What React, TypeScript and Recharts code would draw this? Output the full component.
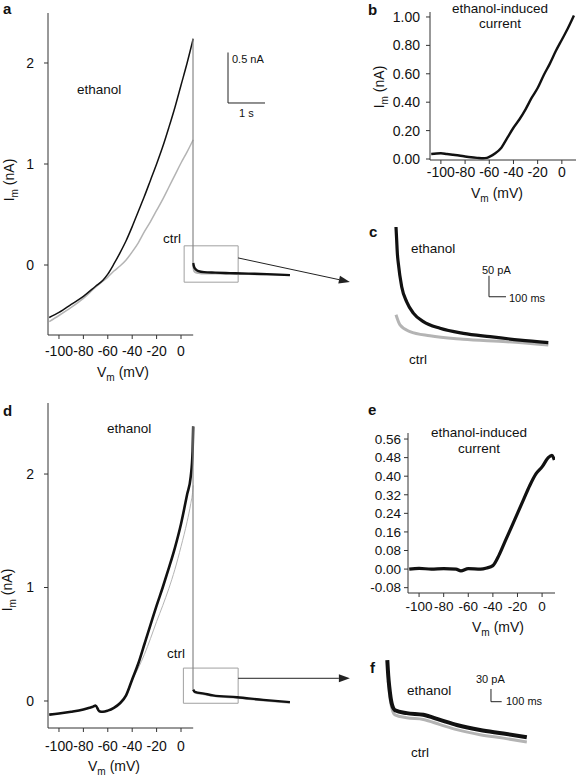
import React from "react";
import { ComposedChart, Line, XAxis, YAxis, ReferenceLine, ReferenceArea } from "recharts";

// ---- panel a: ramp I-V (mV) followed by holding trace (s) ----
const mvTicks = [-100, -80, -60, -40, -20, 0];
const aMv = [-108, -100, -90, -80, -70, -64, -60, -55, -50, -45, -40, -35, -30, -25, -20, -15, -10, -5, 0, 5, 10];
const aEthanol = [-0.52, -0.47, -0.39, -0.31, -0.21, -0.15, -0.09, 0.01, 0.12, 0.24, 0.38, 0.53, 0.68, 0.84, 1.0, 1.17, 1.36, 1.56, 1.78, 2.0, 2.24];
const aCtrl = [-0.56, -0.5, -0.42, -0.33, -0.22, -0.16, -0.12, -0.06, -0.01, 0.05, 0.13, 0.22, 0.33, 0.43, 0.54, 0.65, 0.77, 0.89, 1.01, 1.12, 1.24];
const aStepT = [0, 0];
const aStep = [2.24, 0.02];
const aHoldT = [0.005, 0.03, 0.08, 0.15, 0.3, 0.6, 1.0, 1.5, 2.0, 2.62];
const aHoldEthanol = [0.02, -0.02, -0.045, -0.06, -0.07, -0.075, -0.08, -0.085, -0.09, -0.1];
const aHoldCtrl = [0.0, -0.06, -0.075, -0.08, -0.085, -0.085, -0.09, -0.09, -0.095, -0.1];

// ---- panel b: ethanol-induced current ----
const bMv = [-108, -100, -95, -90, -85, -80, -75, -70, -65, -62, -60, -55, -50, -45, -40, -35, -30, -25, -20, -15, -10, -5, 0, 5, 10];
const bCurrent = [0.035, 0.04, 0.035, 0.03, 0.025, 0.018, 0.012, 0.008, 0.005, 0.008, 0.015, 0.04, 0.08, 0.15, 0.22, 0.28, 0.35, 0.43, 0.5, 0.59, 0.67, 0.76, 0.84, 0.92, 1.01];
const bTicks = [0, 0.2, 0.4, 0.6, 0.8, 1.0];

// ---- panel c: zoom of holding trace (ms, pA) ----
const cEthT = [0, 4, 8, 13.5, 33.5, 63, 102, 161, 259, 396, 553, 729, 896];
const cEthanol = [181, 150, 118, 95, 39, 3, -24, -44, -60, -72, -80, -88, -94];
const cCtrlT = [0, 23.5, 82, 200, 394, 651, 896];
const cCtrl = [-28, -52, -68, -78, -86, -92, -100];

// ---- panel d ----
const dMv = [-108, -100, -90, -80, -75, -72, -70, -67, -64, -60, -55, -50, -45, -40, -35, -30, -25, -20, -15, -10, -5, 0, 5, 8, 9.5, 10];
const dEthanol = [-0.12, -0.11, -0.095, -0.075, -0.06, -0.05, -0.04, -0.09, -0.095, -0.085, -0.06, -0.02, 0.05, 0.19, 0.33, 0.5, 0.67, 0.84, 1.0, 1.17, 1.35, 1.56, 1.82, 1.98, 2.2, 2.42];
const dCtrl = [-0.12, -0.11, -0.095, -0.075, -0.06, -0.05, -0.04, -0.09, -0.095, -0.085, -0.06, -0.02, 0.05, 0.18, 0.29, 0.41, 0.55, 0.7, 0.84, 0.99, 1.16, 1.36, 1.58, 1.74, 1.84, 1.9];
const dStepT = [0, 0];
const dStep = [2.42, 0.1];
const dHoldT = [0.005, 0.05, 0.3, 0.54, 1.19, 1.9, 2.62];
const dHoldEthanol = [0.1, 0.08, 0.065, 0.05, 0.033, 0.01, -0.01];
const dHoldCtrl = [0.1, 0.075, 0.06, 0.045, 0.028, 0.005, -0.015];

// ---- panel e ----
const eMv = [-108, -100, -90, -80, -70, -66, -60, -50, -45, -40, -35, -30, -25, -20, -15, -10, -5, 0, 5, 8, 10];
const eCurrent = [0.0, 0.003, 0.0, 0.002, 0.0, -0.008, 0.002, 0.0, 0.005, 0.015, 0.06, 0.12, 0.18, 0.24, 0.3, 0.36, 0.41, 0.44, 0.48, 0.49, 0.47];
const eTicks = [-0.08, 0, 0.08, 0.16, 0.24, 0.32, 0.4, 0.48, 0.56];

// ---- panel f ----
const fEthT = [0, 9, 18.7, 41, 72, 181, 337, 493, 649, 867, 1085, 1304];
const fEthanol = [167, 130, 104, 65, 49, 42, 38, 26, 14, 2, -6, -15];
const fCtrlT = [9, 18.7, 41, 72, 181, 337, 493, 649, 867, 1085, 1304];
const fCtrl = [118, 92, 55, 38, 31, 27, 15, 3, -9, -17, -26];

// scale bars and zoom boxes (data units)
const aScale = { t: 0.946, i: 1.604, dt: 1, di: 0.5 };
const cScale = { t: 547, i: 15, dt: 100, di: 50 };
const fScale = { t: 969, i: 69, dt: 100, di: 30 };
const aBox = { t1: -0.24, t2: 1.22, i1: -0.17, i2: 0.19 };
const dBox = { t1: -0.26, t2: 1.22, i1: -0.02, i2: 0.29 };
const aArrow = [{ x: 1.22, y: 0.07 }, { x: 4.24, y: -0.168 }];
const dArrow = [{ x: 1.22, y: 0.2 }, { x: 4.24, y: 0.2 }];

const FONT = '"Liberation Sans", Arial, Helvetica, sans-serif';
const BLACK = "#111";
const GREY = "#b4b4b4";
const AXIS = "#333";

const zip = (key: string, xs: number[], ys: number[]) => xs.map((x, k) => ({ [key]: x, i: ys[k] }));

const Arrow = (p: any) => {
  const { x1, y1, x2, y2 } = p;
  const a = Math.atan2(y2 - y1, x2 - x1);
  const L = 11, W = 4;
  const bx = x2 - L * Math.cos(a), by = y2 - L * Math.sin(a);
  const pts = `${x2},${y2} ${bx - W * Math.sin(a)},${by + W * Math.cos(a)} ${bx + W * Math.sin(a)},${by - W * Math.cos(a)}`;
  return (
    <g>
      <line x1={x1} y1={y1} x2={bx} y2={by} stroke="#222" strokeWidth={1} />
      <polygon points={pts} fill="#222" />
    </g>
  );
};

const line = (props: any) => (
  <Line dot={false} activeDot={false} isAnimationActive={false} strokeLinejoin="round" {...props} />
);

function Title({ x, y, base, sub, rest, rotate, size = 14 }: any) {
  return (
    <text x={x} y={y} fontSize={size} textAnchor="middle" fill={BLACK}
      transform={rotate ? `rotate(-90 ${x} ${y})` : undefined}>
      {base}
      <tspan fontSize={size * 0.72} dy={size * 0.3}>{sub}</tspan>
      <tspan dy={-size * 0.3}>{rest}</tspan>
    </text>
  );
}

function RampPanel(p: any) {
  const yMin = p.yDomain[0];
  return (
    <div style={{ position: "absolute", left: 0, top: p.top }}>
      <ComposedChart width={360} height={p.height} margin={{ top: 13, right: 5, bottom: 0, left: 8 }}>
        <XAxis xAxisId="v" type="number" dataKey="v" domain={[-109, 142.6]} allowDataOverflow
          ticks={mvTicks} interval={0} axisLine={false} tickSize={4} tickMargin={p.xTickMargin}
          tickLine={{ stroke: AXIS }} tick={{ fontSize: 14, fill: BLACK }} height={40} />
        <XAxis xAxisId="t" type="number" dataKey="t" domain={[-3.919, 4.378]} allowDataOverflow
          hide orientation="top" height={0} />
        <YAxis type="number" domain={p.yDomain} allowDataOverflow ticks={[0, 1, 2]} interval={0}
          width={40} tickSize={4} tickMargin={10} axisLine={{ stroke: AXIS }} tickLine={{ stroke: AXIS }}
          tick={{ fontSize: 14, fill: BLACK }} />
        <ReferenceLine xAxisId="v" ifOverflow="visible" stroke={AXIS}
          segment={[{ x: -109, y: yMin }, { x: 10, y: yMin }]} />
        <ReferenceArea xAxisId="t" x1={p.box.t1} x2={p.box.t2} y1={p.box.i1} y2={p.box.i2}
          fill="none" fillOpacity={0} stroke="#a0a0a0" strokeWidth={1} ifOverflow="visible" />
        <ReferenceLine xAxisId="t" ifOverflow="visible" segment={p.arrow} shape={Arrow} />
        {p.scale && (
          <ReferenceLine xAxisId="t" ifOverflow="visible" stroke="#222"
            segment={[{ x: p.scale.t, y: p.scale.i + p.scale.di }, { x: p.scale.t, y: p.scale.i }]} />
        )}
        {p.scale && (
          <ReferenceLine xAxisId="t" ifOverflow="visible" stroke="#222"
            segment={[{ x: p.scale.t, y: p.scale.i }, { x: p.scale.t + p.scale.dt, y: p.scale.i }]} />
        )}
        {line({ xAxisId: "v", data: p.ctrl, dataKey: "i", stroke: GREY, strokeWidth: p.ctrlWidth, type: "monotone" })}
        {line({ xAxisId: "v", data: p.eth, dataKey: "i", stroke: BLACK, strokeWidth: p.ethWidth, type: "monotone" })}
        {line({ xAxisId: "t", data: p.step, dataKey: "i", stroke: "#888", strokeWidth: 1.2, type: "linear" })}
        {line({ xAxisId: "t", data: p.holdCtrl, dataKey: "i", stroke: GREY, strokeWidth: 2, type: "monotone" })}
        {line({ xAxisId: "t", data: p.holdEth, dataKey: "i", stroke: BLACK, strokeWidth: 2.4, type: "monotone" })}
      </ComposedChart>
    </div>
  );
}

function DiffPanel(p: any) {
  return (
    <div style={{ position: "absolute", left: p.left, top: p.top }}>
      <ComposedChart width={196} height={p.height} margin={{ top: p.mTop, right: p.mRight, bottom: 0, left: p.mLeft }}>
        <XAxis xAxisId="v" type="number" dataKey="v" domain={p.xDomain} allowDataOverflow
          ticks={mvTicks} interval={0} tickSize={4} tickMargin={p.xTickMargin} height={40}
          axisLine={{ stroke: AXIS }} tickLine={{ stroke: AXIS }} tick={{ fontSize: p.font, fill: BLACK }} />
        <YAxis type="number" domain={p.yDomain} allowDataOverflow ticks={p.yTicks} interval={0}
          width={40} tickSize={4} tickMargin={p.yTickMargin} tickFormatter={(v: number) => v.toFixed(2)}
          axisLine={{ stroke: AXIS }} tickLine={{ stroke: AXIS }} tick={{ fontSize: p.font, fill: BLACK }} />
        {line({ xAxisId: "v", data: p.data, dataKey: "i", stroke: BLACK, strokeWidth: p.width, type: "monotone" })}
      </ComposedChart>
    </div>
  );
}

function TracePanel(p: any) {
  const s = p.scale;
  return (
    <div style={{ position: "absolute", left: p.left, top: p.top }}>
      <ComposedChart width={180} height={p.height} margin={{ top: 0, right: 0, bottom: 0, left: 0 }}>
        <XAxis type="number" dataKey="t" domain={p.tDomain} allowDataOverflow hide height={0} />
        <YAxis type="number" domain={p.iDomain} allowDataOverflow hide width={0} />
        <ReferenceLine ifOverflow="visible" stroke="#222" segment={[{ x: s.t, y: s.i + s.di }, { x: s.t, y: s.i }]} />
        <ReferenceLine ifOverflow="visible" stroke="#222" segment={[{ x: s.t, y: s.i }, { x: s.t + s.dt, y: s.i }]} />
        {line({ data: p.ctrl, dataKey: "i", stroke: GREY, strokeWidth: 3, type: "monotone" })}
        {line({ data: p.eth, dataKey: "i", stroke: BLACK, strokeWidth: p.ethWidth, type: "monotone" })}
      </ComposedChart>
    </div>
  );
}

export default function App() {
  const label = { fontSize: 13.5, fill: BLACK };
  const small = { fontSize: 11, fill: BLACK };
  const letter = { fontSize: 15, fontWeight: 700, fill: BLACK };
  return (
    <div style={{ position: "absolute", left: 0, top: 0, width: 576, height: 779, background: "#fff", fontFamily: FONT }}>
      <RampPanel top={0} height={375} yDomain={[-0.693, 2.495]} xTickMargin={7}
        eth={zip("v", aMv, aEthanol)} ctrl={zip("v", aMv, aCtrl)} ethWidth={1.5} ctrlWidth={1.5}
        step={zip("t", aStepT, aStep)} holdEth={zip("t", aHoldT, aHoldEthanol)} holdCtrl={zip("t", aHoldT, aHoldCtrl)}
        box={aBox} arrow={aArrow} scale={aScale} />
      <RampPanel top={390} height={378} yDomain={[-0.238, 2.626]} xTickMargin={9}
        eth={zip("v", dMv, dEthanol)} ctrl={zip("v", dMv, dCtrl)} ethWidth={2.6} ctrlWidth={1}
        step={zip("t", dStepT, dStep)} holdEth={zip("t", dHoldT, dHoldEthanol)} holdCtrl={zip("t", dHoldT, dHoldCtrl)}
        box={dBox} arrow={dArrow} />
      <DiffPanel left={380} top={0} height={200} mTop={12} mLeft={10} mRight={0}
        xDomain={[-109, 11.7]} yDomain={[-0.007, 1.035]} yTicks={bTicks} font={14}
        xTickMargin={3} yTickMargin={6} width={2.4} data={zip("v", bMv, bCurrent)} />
      <DiffPanel left={360} top={420} height={213} mTop={13} mLeft={8} mRight={1}
        xDomain={[-109, 10.5]} yDomain={[-0.103, 0.586]} yTicks={eTicks} font={13.5}
        xTickMargin={4} yTickMargin={3} width={3.2} data={zip("v", eMv, eCurrent)} />
      <TracePanel left={380} top={215} height={150} tDomain={[-94.1, 964.7]} iDomain={[-147.4, 209.6]}
        eth={zip("t", cEthT, cEthanol)} ctrl={zip("t", cCtrlT, cCtrl)} ethWidth={3.2} scale={cScale} />
      <TracePanel left={370} top={650} height={110} tDomain={[-161.7, 1520.6]} iDomain={[-68.6, 191]}
        eth={zip("t", fEthT, fEthanol)} ctrl={zip("t", fCtrlT, fCtrl)} ethWidth={4} scale={fScale} />

      <svg width={576} height={779} style={{ position: "absolute", left: 0, top: 0, pointerEvents: "none", fontFamily: FONT }}>
        <text x={3} y={14} {...letter}>a</text>
        <text x={368} y={15} {...letter}>b</text>
        <text x={369} y={237} {...letter}>c</text>
        <text x={3} y={416} {...letter}>d</text>
        <text x={368} y={415} {...letter}>e</text>
        <text x={370} y={673} {...letter}>f</text>

        <text x={77} y={94} {...label}>ethanol</text>
        <text x={163} y={243} {...label}>ctrl</text>
        <text x={232} y={63} {...small}>0.5 nA</text>
        <text x={239} y={117} {...small}>1 s</text>
        <Title x={123} y={377} base="V" sub="m" rest=" (mV)" />
        <Title x={14} y={180} base="I" sub="m" rest=" (nA)" rotate />

        <text x={500} y={13} textAnchor="middle" {...label}>ethanol-induced</text>
        <text x={500} y={28} textAnchor="middle" {...label}>current</text>
        <Title x={497} y={198} base="V" sub="m" rest=" (mV)" />
        <Title x={384} y={87} base="I" sub="m" rest=" (nA)" rotate />

        <text x={411} y={253} {...label}>ethanol</text>
        <text x={409} y={364} {...label}>ctrl</text>
        <text x={482} y={274} {...small}>50 pA</text>
        <text x={509} y={302} {...small}>100 ms</text>

        <text x={107} y={433} {...label}>ethanol</text>
        <text x={167} y={658} {...label}>ctrl</text>
        <Title x={114} y={771} base="V" sub="m" rest=" (mV)" />
        <Title x={12} y={590} base="I" sub="m" rest=" (nA)" rotate />

        <text x={479} y={437} textAnchor="middle" {...label}>ethanol-induced</text>
        <text x={479} y={453} textAnchor="middle" {...label}>current</text>
        <Title x={498} y={632} base="V" sub="m" rest=" (mV)" />

        <text x={407} y={695} {...label}>ethanol</text>
        <text x={411} y={757} {...label}>ctrl</text>
        <text x={476} y={683} {...small}>30 pA</text>
        <text x={506} y={705} {...small}>100 ms</text>
      </svg>
    </div>
  );
}
